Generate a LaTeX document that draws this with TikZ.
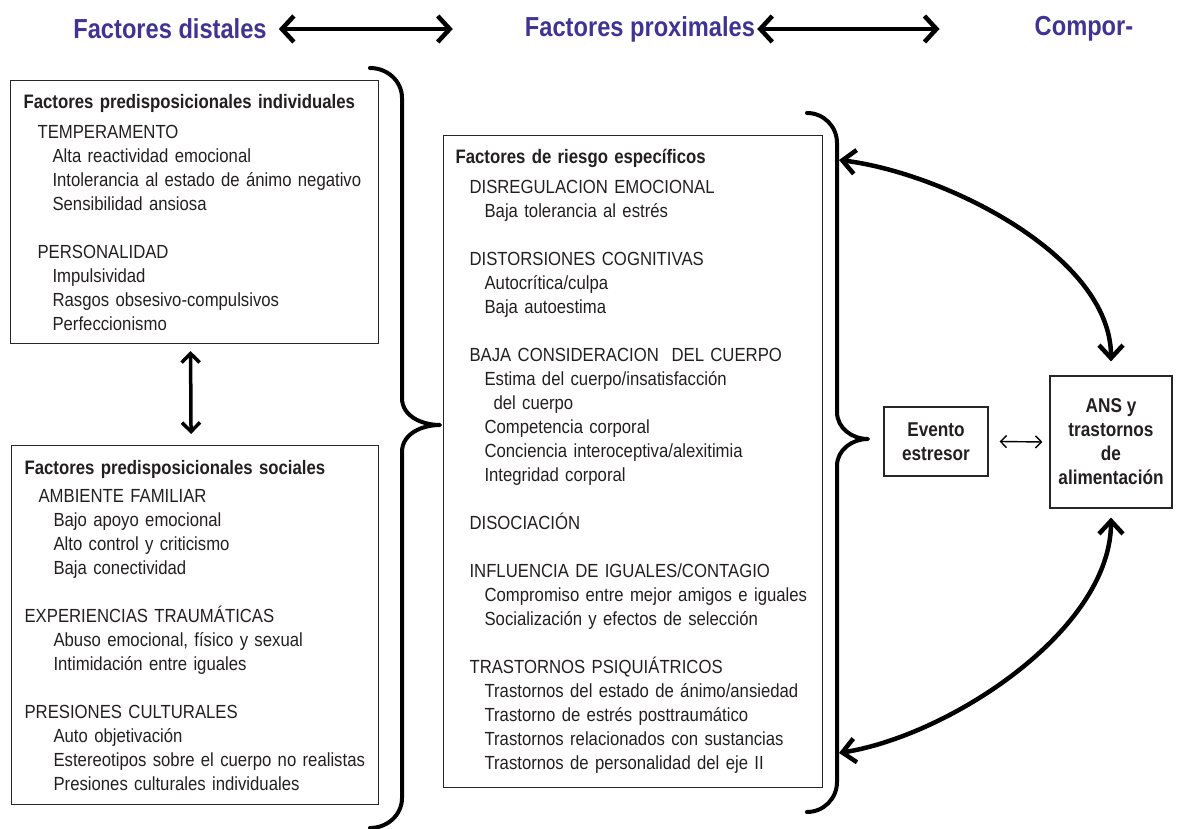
\documentclass[tikz,border=0pt]{standalone}
\usepackage{fontspec}
\setmainfont[FakeStretch=0.88]{Liberation Sans}
\newfontfamily\condbf[FakeStretch=0.86]{Liberation Sans Bold}
\usepackage{tikz}
\usepackage{xcolor}
\usetikzlibrary{arrows.meta}

\definecolor{titblue}{RGB}{64,51,148}
\definecolor{txt}{RGB}{35,31,32}

\newcommand{\boxhead}[1]{{\condbf\fontsize{19.5}{24}\selectfont #1}}
\newcommand{\catg}[1]{\hspace*{14pt}#1}
\newcommand{\itm}[1]{\hspace*{29pt}#1}

\begin{document}
\begin{tikzpicture}[x=1pt, y=1pt, >={Straight Barb},
    factbox/.style={draw=black!85, line width=1.1, align=left, anchor=north west,
      inner xsep=13pt, inner ysep=0pt, text=txt, font=\fontsize{19}{24}\selectfont},
    smallbox/.style={draw=black!85, line width=1.1, align=center, inner sep=0pt,
      text=txt, font=\condbf\fontsize{20}{24}\selectfont},
    titre/.style={text=titblue, inner sep=0pt, font=\condbf\fontsize{27.5}{30}\selectfont},
    brace/.style={line width=4, line cap=round, line join=round},
    bigarr/.style={line width=4.5, >={Straight Barb[length=12pt,width=26pt]}, <->},
    midarr/.style={line width=3.5, >={Straight Barb[length=9pt,width=18pt]}, <->},
    curarr/.style={line width=4.5, >={Straight Barb[length=13pt,width=24pt]}, <->},
    thinarr/.style={line width=1.4, >={Straight Barb[length=6pt,width=12pt]}, <->}]
  \useasboundingbox (0,0) rectangle (1179,829);

  % titles
  \node[titre] (distal) at (170,800) {Factores distales};
  \node[titre] (prox) at (640,800) {Factores proximales};
  \node[titre] (comp) at (1084,800) {Compor-};
  \draw[bigarr] ([xshift=12]distal.east) -- ([xshift=-72]prox.west);
  \draw[bigarr] ([xshift=2]prox.east) -- ([xshift=-95]comp.west);

  % distal factors
  \node[factbox, text width=342, minimum width=368, minimum height=263] (ind) at (10,749) {%
    \boxhead{Factores predisposicionales individuales}\\[6pt]
    \catg{TEMPERAMENTO}\\
    \itm{Alta reactividad emocional}\\
    \itm{Intolerancia al estado de ánimo negativo}\\
    \itm{Sensibilidad ansiosa}\\[24pt]
    \catg{PERSONALIDAD}\\
    \itm{Impulsividad}\\
    \itm{Rasgos obsesivo-compulsivos}\\
    \itm{Perfeccionismo}
  };
  \node[factbox, text width=341, minimum width=367, minimum height=359] (soc) at (11,384) {%
    \boxhead{Factores predisposicionales sociales}\\[4pt]
    \catg{AMBIENTE FAMILIAR}\\
    \itm{Bajo apoyo emocional}\\
    \itm{Alto control y criticismo}\\
    \itm{Baja conectividad}\\[24pt]
    EXPERIENCIAS TRAUMÁTICAS\\
    \itm{Abuso emocional, físico y sexual}\\
    \itm{Intimidación entre iguales}\\[24pt]
    PRESIONES CULTURALES\\
    \itm{Auto objetivación}\\
    \itm{Estereotipos sobre el cuerpo no realistas}\\
    \itm{Presiones culturales individuales}
  };
  \draw[midarr] ([xshift=-4,yshift=-7]ind.south) -- ([xshift=-4,yshift=11]soc.north);

  \draw[brace] (370,761) to[out=0,in=90] (402,731) -- (402,431)
    to[out=-90,in=180] (440,404) to[out=180,in=90] (402,377) -- (402,31)
    to[out=-90,in=0] (370,1);

  % proximal factors
  \node[factbox, inner xsep=12pt, text width=355, minimum width=379, minimum height=652] (esp) at (443,694) {%
    \boxhead{Factores de riesgo específicos}\\[6pt]
    \catg{DISREGULACION EMOCIONAL}\\
    \itm{Baja tolerancia al estrés}\\[24pt]
    \catg{DISTORSIONES COGNITIVAS}\\
    \itm{Autocrítica/culpa}\\
    \itm{Baja autoestima}\\[24pt]
    \catg{BAJA CONSIDERACION\ \ DEL CUERPO}\\
    \itm{Estima del cuerpo/insatisfacción}\\
    \hspace*{38pt}del cuerpo\\
    \itm{Competencia corporal}\\
    \itm{Conciencia interoceptiva/alexitimia}\\
    \itm{Integridad corporal}\\[24pt]
    \catg{DISOCIACIÓN}\\[24pt]
    \catg{INFLUENCIA DE IGUALES/CONTAGIO}\\
    \itm{Compromiso entre mejor amigos e iguales}\\
    \itm{Socialización y efectos de selección}\\[24pt]
    \catg{TRASTORNOS PSIQUIÁTRICOS}\\
    \itm{Trastornos del estado de ánimo/ansiedad}\\
    \itm{Trastorno de estrés posttraumático}\\
    \itm{Trastornos relacionados con sustancias}\\
    \itm{Trastornos de personalidad del eje II}
  };

  \draw[brace] (807,716) to[out=0,in=90] (837,686) -- (837,417)
    to[out=-90,in=180] (868,390) to[out=180,in=90] (837,363) -- (837,47)
    to[out=-90,in=0] (807,17);

  % behaviour
  \node[smallbox, minimum width=104, minimum height=69] (ev) at (936,387.5) {Evento\\estresor};
  \node[smallbox, minimum width=122, minimum height=132] (ans) at (1111,387) {ANS y\\trastornos\\de\\alimentación};
  \draw[thinarr] ([xshift=11]ev.east) -- ([xshift=-7]ans.west);

  \coordinate (bt) at (839,669);
  \coordinate (bb) at (839,76);
  \draw[curarr] (bt) to[out=-7,in=90,looseness=0.8] ([yshift=14]ans.north);
  \draw[curarr] (bb) to[out=9,in=-90,looseness=0.8] ([yshift=-9]ans.south);
\end{tikzpicture}
\end{document}
